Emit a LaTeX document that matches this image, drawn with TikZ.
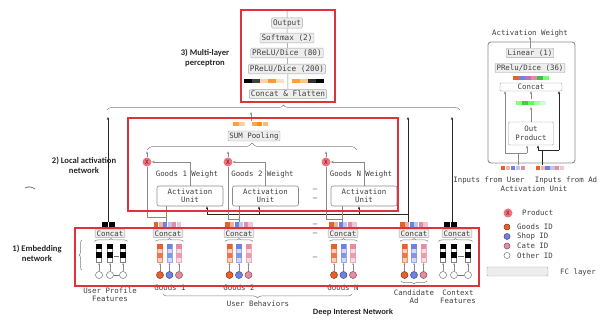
\documentclass[tikz,border=0pt]{standalone}
\usepackage{fontspec}
\setmainfont{DejaVu Sans Mono}
\newfontfamily\boldsans{Carlito}
\newfontfamily\arialf{Liberation Sans}
\usetikzlibrary{arrows.meta,decorations.pathreplacing,backgrounds}
\definecolor{gid}{HTML}{E8602C}
\definecolor{sid}{HTML}{7082E0}
\definecolor{cid}{HTML}{E58CA0}
\definecolor{redb}{HTML}{E0323C}
\definecolor{prodc}{HTML}{EC7482}
\definecolor{linec}{HTML}{8A8A8A}
\definecolor{fcfill}{HTML}{EDEDED}
\tikzset{
 every node/.style={font=\fontsize{7.4}{8.4}\selectfont, text=black!75, inner sep=0pt},
 fc/.style={draw=black!35, fill=fcfill, rounded corners=1pt, inner xsep=1.5pt, inner ysep=1.4pt},
 mlp/.style={fc, font=\fontsize{7.7}{8.6}\selectfont},
 unitbox/.style={draw=black!45, fill=white, rounded corners=2pt, minimum width=66pt, minimum height=20pt, align=center, line width=0.6pt},
 redbox/.style={draw=redb, line width=1.1pt},
 prod/.style={circle, fill=prodc, minimum size=9pt, font=\fontsize{6}{6}\selectfont, text=red!55!black},
 garrow/.style={draw=linec, line width=0.5pt, -{Stealth[length=3pt,width=2.4pt]}},
 gline/.style={draw=linec, line width=0.5pt},
 barrow/.style={draw=black!85, line width=0.7pt, -{Stealth[length=3pt,width=2.4pt]}},
 bline/.style={draw=black!85, line width=0.7pt},
 brc/.style={draw=black!50, line width=0.5pt, decorate, decoration={brace, amplitude=#1}},
 mbrc/.style={draw=black!50, line width=0.5pt, decorate, decoration={brace, mirror, amplitude=#1}},
 lab/.style={font=\boldsans\bfseries\fontsize{8.6}{10}\selectfont, text=black!85, align=center},
 idc/.style={circle, minimum size=7pt, line width=0.5pt},
 tinyarrow/.style={draw=linec, line width=0.4pt, -{Stealth[length=1.6pt,width=1.6pt]}},
}
\newcommand\brow[4]{\foreach \cc [count=\ii from 0] in {#4}{\fill[\cc] ({#1+\ii*#3-#3/2+0.25},{#2-2.4}) rectangle ({#1+\ii*#3+#3/2-0.25},{#2+2.4});}}
\newcommand\goodsunit[4]{%
 \foreach \xx/\cc/\kk in {#2/gid/a,#3/sid/b,#4/cid/c}{%
   \draw[\cc!70, line width=0.4pt, fill=\cc!30] (\xx-2.6,244) rectangle (\xx+2.6,262);
   \fill[\cc] (\xx-2.6,244) rectangle (\xx+2.6,249.5);
   \fill[\cc!85] (\xx-2.6,253) rectangle (\xx+2.6,258);
   \node[idc, fill=\cc, draw=\cc!55!black] (#1\kk) at (\xx,275) {};
   \draw[tinyarrow] (#1\kk.north) -- (\xx,263.2);
 }
 \draw[brc=3] (#2-4.5,241.5) -- (#4+4.5,241.5);
}
\newcommand\otherunit[4]{%
 \foreach \xx/\kk in {#2/a,#3/b,#4/c}{%
   \draw[black!50, line width=0.4pt, fill=white] (\xx-2.6,244) rectangle (\xx+2.6,262);
   \fill[black] (\xx-2.6,244) rectangle (\xx+2.6,249.5);
   \fill[black] (\xx-2.6,252.5) rectangle (\xx+2.6,258);
   \node[idc, fill=white, draw=black!55] (#1\kk) at (\xx,275) {};
   \draw[tinyarrow] (#1\kk.north) -- (\xx,263.2);
 }
 \draw[black!55, line width=0.5pt] (#1b.east) -- (#1c.west);
 \draw[black!55, line width=0.5pt] (#3+3.8,256) -- (#4-3.8,256);
 \draw[brc=3] (#2-4.5,241.5) -- (#4+4.5,241.5);
}
\begin{document}
\begin{tikzpicture}[x=1pt,y=-1pt]
\useasboundingbox (0,0) rectangle (606,320);

% ---------------- MLP ----------------
\node[mlp] (out) at (287,23) {Output};
\node[mlp] (sm) at (287,38) {Softmax (2)};
\node[mlp] (p80) at (287,53) {PReLU/Dice (80)};
\node[mlp] (p200) at (287,69) {PReLU/Dice (200)};
\node[mlp] (cf) at (288,94) {Concat \& Flatten};
\begin{scope}[on background layer]
 \draw[gline] (cf.north) -- (out.north) -- ++(0,-8);
\end{scope}
\brow{248}{81}{8}{black,black!75,orange!35,orange!80,orange!25}
\brow{296}{81}{8}{orange!75,orange!45,black!80,black}
\node[lab] (mlplab) at (205,58) {3) Multi-layer\\perceptron};

% big brace
\draw[brc=5] (107,110) -- (460,110);

% ---------------- Local activation ----------------
\node[fc] (sum) at (254,136) {SUM Pooling};
\brow{236}{124}{6}{orange!75,orange!35}
\brow{254}{124}{5.5}{orange!70,orange!90,orange!55}
\coordinate (sumtop) at (251,121);
\coordinate (sumend) at (251,112);
\draw[garrow] (sumtop) -- (sumend);
\draw[brc=7] (147,150) -- (357,150);

\node[prod] (x1) at (147,162) {X};
\node[prod] (x2) at (228,162) {X};
\node[prod] (x3) at (326,162) {X};
\foreach \n in {x1,x2,x3}{\draw[garrow] (\n.north) -- ++(0,-6);}

\node[unitbox] (au1) at (190,196) {Activation\\Unit};
\node[unitbox] (au2) at (265.5,196) {Activation\\Unit};
\node[unitbox] (au3) at (364,196) {Activation\\Unit};
\draw[garrow] (au1.north) |- (x1.east);
\draw[garrow] (au2.north) |- (x2.east);
\draw[garrow] (au3.north) |- (x3.east);
\node (w1) at (187,174) {Goods 1 Weight};
\node (w2) at (262.5,174) {Goods 2 Weight};
\node (w3) at (361,174) {Goods N Weight};
\node (d1) at (315,190) {--};
\node (d2) at (315,199) {--};
\node[lab] (lalab) at (84,165.5) {2) Local activation\\network};
\draw[black!70, line width=0.6pt] (25,188) .. controls (29,186) and (32,187) .. (35,189);

% ---------------- Embedding ----------------
\otherunit{up}{99}{110}{123}
\goodsunit{ga}{160}{169.5}{179}
\goodsunit{gb}{229.5}{239}{248.5}
\goodsunit{gn}{334}{343.5}{353}
\goodsunit{cad}{404.5}{414}{423.5}
\otherunit{ctx}{443}{454}{468}
\draw[mbrc=3] (401,281) -- (427,281);

\node[fc] (cu) at (110,233.5) {Concat};
\node[fc] (c1) at (168,233.5) {Concat};
\node[fc] (c2) at (239,233.5) {Concat};
\node[fc] (cn) at (343,233.5) {Concat};
\node[fc] (cc) at (414,233.5) {Concat};
\node[fc] (cx) at (457,233.5) {Concat};
\brow{105}{224.5}{7}{black,black}
\brow{156}{224.5}{4.6}{gid,gid!50,sid,sid!45,cid,cid!50}
\brow{227.5}{224.5}{4.6}{gid,gid!50,sid,sid!45,cid,cid!50}
\brow{331.5}{224.5}{4.6}{gid,gid!50,sid,sid!45,cid,cid!50}
\brow{402.5}{224.5}{4.6}{gid,gid!50,sid,sid!45,cid,cid!50}
\brow{447}{224.5}{7}{black,black}

\node (d3) at (315,225) {--};
\node (d4) at (315,234) {--};
\node (d5) at (315,258) {--};
\node (d6) at (315,287) {--};

\node[align=center] (lup) at (110,295) {User Profile\\Features};
\node (lg1) at (170,288) {Goods 1};
\node (lg2) at (239,288) {Goods 2};
\node (lgn) at (343,288) {Goods N};
\draw[mbrc=4] (163,294) -- (352,294);
\node (lub) at (258,304) {User Behaviors};
\node[align=center] (lca) at (414,297) {Candidate\\Ad};
\node[align=center] (lcx) at (458,297) {Context\\Features};
\node[font=\arialf\bfseries\fontsize{7.6}{9}\selectfont, text=black!85] (title) at (353,313) {Deep Interest Network};
\node[lab] (emlab) at (37,253) {1) Embedding\\network};
\draw[brc=3] (82,270) -- (82,240);

% ---------------- connections ----------------
\coordinate (tu) at (108,222);
\coordinate (bu) at (108,117);
\coordinate (tc) at (408,222);
\coordinate (bc) at (408,117);
\coordinate (tx) at (452,222);
\coordinate (bx) at (452,117);
\draw[barrow] (tu) -- (bu);
\draw[barrow] (tc) -- (bc);
\draw[barrow] (tx) -- (bx);
\coordinate (adj) at (408,214);
\draw[bline] (adj) -- (207,214);
\draw[barrow] (207,214) -- (207,206.3);
\draw[barrow] (259,214) -- (259,206.3);
\draw[barrow] (359,214) -- (359,206.3);

\draw[gline] (166,222) -- (166,206);
\draw[gline] (x1.south) |- (166,217);
\draw[gline] (239,222) -- (239,206);
\draw[gline] (x2.south) |- (239,219);
\draw[gline] (342,222) -- (342,206);
\draw[gline] (x3.south) |- (342,219);

% ---------------- red boxes ----------------
\draw[redbox] (241,10) rectangle (335,102);
\draw[redbox] (128,118) rectangle (398,211);
\draw[redbox] (75,228) rectangle (479,286);

% ---------------- Activation unit panel ----------------
\node (awt) at (530,33) {Activation Weight};
\draw[draw=black!45, line width=0.9pt, rounded corners=3pt] (488,42) rectangle (575,163);
\node[fc] (lin) at (530,53) {Linear (1)};
\node[fc] (prd) at (530,68) {PRelu/Dice (36)};
\brow{516}{78}{6}{gid,sid,violet!55,cid,green!60!black!70,green!55}
\node[draw=black!40, fill=white, minimum width=62pt, minimum height=8pt, rounded corners=1pt] (acc) at (531,87) {Concat};
\brow{519}{103}{6}{green!50,green!70!black!70,green!65,green!35,green!18}
\node[draw=black!40, fill=white, minimum width=45pt, minimum height=23pt, rounded corners=1pt, align=center] (op) at (531,133.5) {Out\\Product};
\coordinate (gbot) at (531,107);
\coordinate (gtop) at (531,99.5);
\draw[garrow] (op.north) -- (gbot);
\draw[garrow] (gtop) -- (acc.south);
\draw[garrow] (lin.north) -- (awt.south);

\brow{503}{168}{5}{gid,gid!45,sid,sid!45,cid}
\brow{538}{168}{4.8}{gid,gid!45,sid,sid!45,cid,cid!50}
\draw[gline] (518,165.5) -- (518,153);
\draw[gline] (505,153) -- (527,153);
\draw[garrow] (505,153) -- (505,91.2);
\draw[garrow] (527,153) -- (527,145.5);
\draw[bline] (542,165.5) -- (542,150);
\draw[bline] (538,150) -- (559,150);
\draw[barrow] (538,150) -- (538,145.5);
\draw[barrow] (559,150) -- (559,91.2);
\node (ifu) at (489,180) {Inputs from User};
\node (ifa) at (566,180) {Inputs from Ad};
\node (aun) at (534,188.5) {Activation Unit};

% ---------------- Legend ----------------
\node[prod] (lp) at (508,213) {X};
\node[anchor=west] (lpt) at (522,213) {Product};
\node[idc, minimum size=6pt, fill=gid, draw=gid!55!black] (lgc) at (507,227) {};
\node[anchor=west] (lgt) at (517,227) {Goods ID};
\node[idc, minimum size=6pt, fill=sid, draw=sid!55!black] (lsc) at (507,236.5) {};
\node[anchor=west] (lst) at (517,236.5) {Shop ID};
\node[idc, minimum size=6pt, fill=cid, draw=cid!55!black] (lcc) at (507,246) {};
\node[anchor=west] (lct) at (517,246) {Cate ID};
\node[idc, minimum size=6pt, fill=white, draw=black!55] (loc) at (507,255.5) {};
\node[anchor=west] (lot) at (517,255.5) {Other ID};
\node[fc, minimum width=61pt, minimum height=9pt] (lfc) at (517.5,271.5) {};
\node[anchor=west] (lft) at (560,272) {FC layer};
\end{tikzpicture}
\end{document}
